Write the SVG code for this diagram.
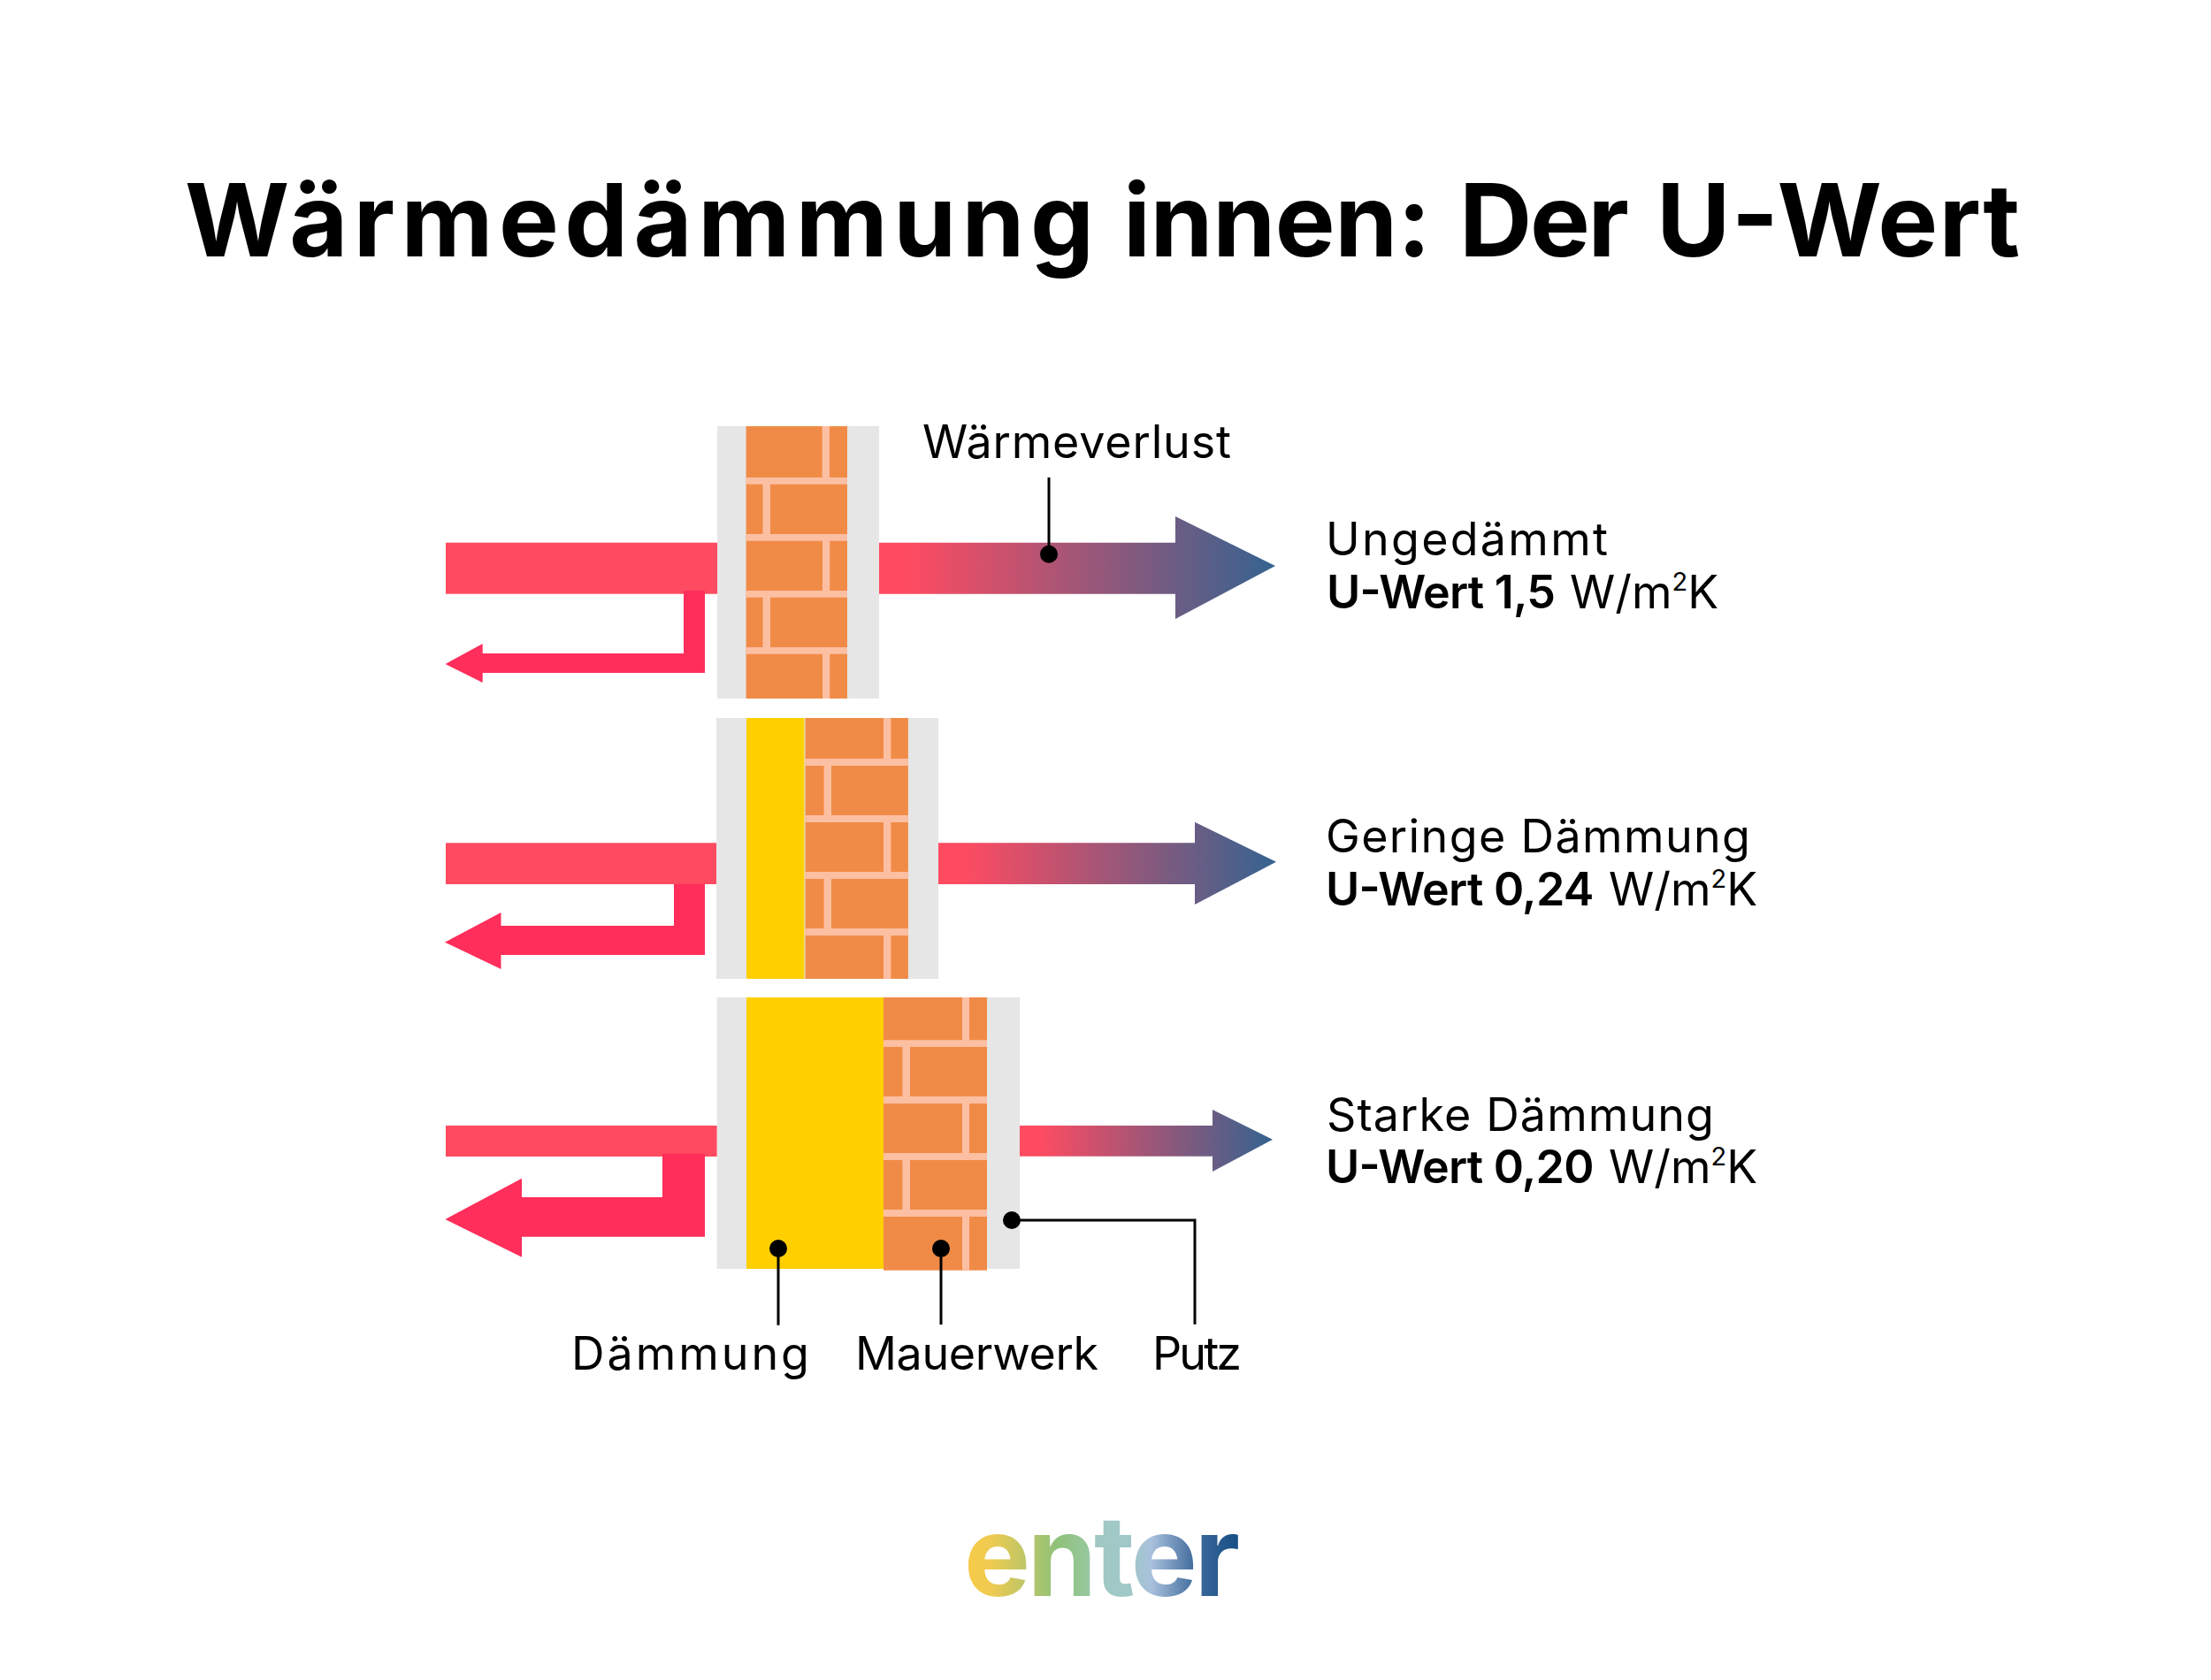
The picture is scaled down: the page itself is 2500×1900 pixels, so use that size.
<svg xmlns="http://www.w3.org/2000/svg" width="2500" height="1900" viewBox="0 0 2500 1900">
<style>
text{font-family:"Inter","Liberation Sans",sans-serif;fill:#000}
.title{font-size:114px;font-weight:700}
.l{font-size:52px;font-weight:400}
.b{font-weight:600}
.sup{font-size:29px}
.plaster{fill:#e6e6e6}
.brick{fill:#f08b47}
.mortar{fill:#fdbfa2}
.ins{fill:#ffcf00}
.bar{fill:#ff4b61}
.ret{fill:#ff2e5b}
.lead{fill:none;stroke:#000;stroke-width:3}
</style>
<defs>
<linearGradient id="flow" x1="0" y1="0" x2="1" y2="0"><stop offset="0.07" stop-color="#ff4b61"/><stop offset="1" stop-color="#356390"/></linearGradient>
<linearGradient id="logo" gradientUnits="userSpaceOnUse" x1="1095" y1="0" x2="1400" y2="0">
<stop offset="0" stop-color="#f6ca48"/><stop offset="0.08" stop-color="#f0cb50"/><stop offset="0.33" stop-color="#8fc27a"/><stop offset="0.44" stop-color="#96c79c"/><stop offset="0.47" stop-color="#a0c8c2"/><stop offset="0.6" stop-color="#a0c8c8"/><stop offset="0.68" stop-color="#a8c0dc"/><stop offset="0.84" stop-color="#3f6a9c"/><stop offset="1" stop-color="#154f84"/></linearGradient>
</defs>
<rect width="2500" height="1900" fill="#fff"/>
<text id="title" class="title" y="290"><tspan x="209" textLength="1028">Wärmedämmung</tspan> <tspan x="1270" textLength="348">innen:</tspan> <tspan x="1650" textLength="192">Der</tspan> <tspan x="1873" textLength="411">U-Wert</tspan></text>

<g id="wall-1">
<rect class="plaster" x="811" y="482" width="183" height="308"/>
<rect class="brick" x="843.6" y="482" width="114.4" height="308"/>
<path class="mortar" d="M843.6 540H958V547.7H843.6ZM843.6 604H958V611.7H843.6ZM843.6 668H958V675.7H843.6ZM843.6 732H958V739.7H843.6ZM929.6 482H937.9V540H929.6ZM862.5 547.7H871V604H862.5ZM930 611.7H938.3V668H930ZM862.5 675.7H871V732H862.5ZM930 739.7H938.3V790H930Z"/>
</g>
<g id="wall-2">
<rect class="plaster" x="810" y="812" width="251" height="295"/>
<rect class="ins" x="844" y="812" width="65.4" height="295"/>
<rect class="brick" x="910.5" y="812" width="116.4" height="295"/>
<path class="mortar" d="M910.5 858H1026.9V866H910.5ZM910.5 922H1026.9V930H910.5ZM910.5 986H1026.9V994H910.5ZM910.5 1050H1026.9V1058H910.5ZM999 812H1007.4V858H999ZM931.6 866H940V922H931.6ZM999 930H1007.4V986H999ZM931.6 994H940V1050H931.6ZM999 1058H1007.4V1107H999Z"/>
</g>
<g id="wall-3">
<rect class="plaster" x="810.6" y="1128" width="342.4" height="307"/>
<rect class="ins" x="844" y="1128" width="155" height="307"/>
<rect class="brick" x="999" y="1128" width="117" height="308.7"/>
<path class="mortar" d="M999 1176.3H1116V1184H999ZM999 1240H1116V1248H999ZM999 1304H1116V1312H999ZM999 1368H1116V1376H999ZM1088 1128H1096V1176.3H1088ZM1020.4 1184H1029V1240H1020.4ZM1088 1248H1096V1304H1088ZM1020.4 1312H1029V1368H1020.4ZM1088 1376H1096V1436.7H1088Z"/>
</g>

<g id="connectors">
<g id="heat-in">
<rect class="bar" x="504" y="613.7" width="307" height="58"/>
<rect class="bar" x="504" y="953.3" width="306" height="46.7"/>
<rect class="bar" x="504" y="1273" width="306.6" height="35"/>
</g>
<g id="heat-reflected">
<path class="ret" d="M773 668H797V761H545.7V772L503.6 751L545.7 728V739H773Z"/>
<path class="ret" d="M762 1000H797V1080H566.5V1096L503 1065.7L566.5 1032V1047H762Z"/>
<path class="ret" d="M749 1304.7H797V1398.7H590V1421.7L503.4 1379L590 1332.7V1354H749Z"/>
</g>
<g id="heat-out">
<path fill="url(#flow)" d="M994 613.7H1329V584L1442 640L1329 700V671.7H994Z"/>
<path fill="url(#flow)" d="M1061 953.3H1351V929.7L1443 974.7L1351 1023V1000H1061Z"/>
<path fill="url(#flow)" d="M1153 1273H1371V1255L1439 1288.7L1371 1325V1307.7H1153Z"/>
</g>
<g id="leaders">
<path class="lead" d="M1186 540V627"/>
<circle cx="1186" cy="626.7" r="10"/>
<path class="lead" d="M880 1412V1498.7"/>
<circle cx="880" cy="1412" r="10"/>
<path class="lead" d="M1064 1412V1498"/>
<circle cx="1064" cy="1412" r="10"/>
<path class="lead" d="M1144 1380H1351V1497.7"/>
<circle cx="1144" cy="1380" r="10"/>
</g>
</g>

<g id="label-waermeverlust"><text class="l" x="1043" y="517.5" textLength="349">Wärmeverlust</text></g>
<g id="label-ungedaemmt"><text class="l" y="627.5" x="1499" textLength="319">Ungedämmt</text>
<text class="l" y="688"><tspan class="b" x="1500" textLength="259">U-Wert 1,5</tspan> <tspan x="1775">W/m</tspan><tspan class="sup" dy="-20">2</tspan><tspan dy="20">K</tspan></text></g>
<g id="label-gering"><text class="l" y="963.5" x="1499" textLength="480">Geringe Dämmung</text>
<text class="l" y="1024"><tspan class="b" x="1499" textLength="303.5">U-Wert 0,24</tspan> <tspan x="1819">W/m</tspan><tspan class="sup" dy="-20">2</tspan><tspan dy="20">K</tspan></text></g>
<g id="label-stark"><text class="l" y="1278.5" x="1500" textLength="438">Starke Dämmung</text>
<text class="l" y="1338"><tspan class="b" x="1499" textLength="303.5">U-Wert 0,20</tspan> <tspan x="1819">W/m</tspan><tspan class="sup" dy="-20">2</tspan><tspan dy="20">K</tspan></text></g>
<g id="label-daemmung"><text class="l" x="646" y="1549" textLength="269">Dämmung</text></g>
<g id="label-mauerwerk"><text class="l" x="967" y="1549" textLength="275">Mauerwerk</text></g>
<g id="label-putz"><text class="l" x="1303" y="1549" textLength="101">Putz</text></g>
<g id="logo-enter"><text x="1090" y="1805" font-size="126" font-weight="700" textLength="312" lengthAdjust="spacing" style="fill:url(#logo)">enter</text></g>
</svg>
